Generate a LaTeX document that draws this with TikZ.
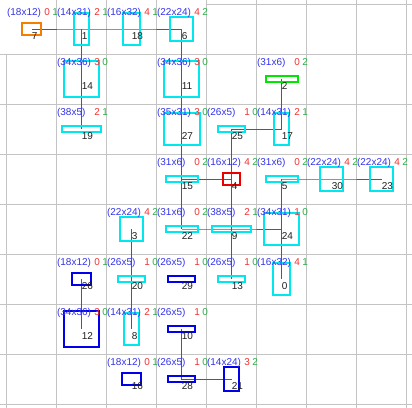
\documentclass[tikz,border=0pt]{standalone}
\usepackage{fontspec}
\setmainfont{Liberation Sans}
\usetikzlibrary{backgrounds}
\definecolor{gridgray}{RGB}{196,196,196}
\definecolor{boxcyan}{RGB}{0,232,238}
\definecolor{boxblue}{RGB}{0,0,235}
\definecolor{boxorange}{RGB}{245,125,0}
\definecolor{boxred}{RGB}{235,0,0}
\definecolor{boxgreen}{RGB}{0,230,0}
\definecolor{linkmag}{RGB}{215,0,215}
\definecolor{sizeblue}{RGB}{50,50,235}
\definecolor{costred}{RGB}{240,50,50}
\definecolor{costgreen}{RGB}{40,175,70}
\tikzset{
  cellbox/.style={draw, line width=2bp, inner sep=0pt, outer sep=0pt},
  numlbl/.style={anchor=base west, inner sep=0pt, text=black!88, yshift=-10bp},
  sizelbl/.style={anchor=base west, inner sep=0pt, text=sizeblue},
  redlbl/.style={anchor=base west, inner sep=0pt, text=costred},
  greenlbl/.style={anchor=base west, inner sep=0pt, text=costgreen},
  link/.style={draw=linkmag, line width=1bp},
  gridline/.style={draw=gridgray, line width=1bp}
}
% #1 column, #2 row, #3 id, #4 width, #5 height, #6 colour, #7 red, #8 green
\newcommand{\gridcell}[8]{%
  \node[cellbox, draw=#6, minimum width=#4bp+1.3bp, minimum height=#5bp+0.5bp] (n#3) at (31.7+50*#1, 29+50*#2) {};
  \node[numlbl] (t#3) at (n#3.center) {#3};
  \node[sizelbl] (s#3) at (6.9+50*#1, 15.5+50*#2) {(#4x#5)};
  \node[redlbl] (r#3) at (44.2+50*#1, 15.5+50*#2) {#7};
  \node[greenlbl] (g#3) at (52.2+50*#1, 15.5+50*#2) {#8};
}

\begin{document}
\begin{tikzpicture}[x=1bp, y=-1bp, font=\fontsize{10bp}{12bp}\selectfont]
  \useasboundingbox (0,0) rectangle (412,408);
  \gridcell{0}{0}{7}{18}{12}{boxorange}{0}{1}
  \gridcell{1}{0}{1}{14}{31}{boxcyan}{2}{1}
  \gridcell{2}{0}{18}{16}{32}{boxcyan}{4}{1}
  \gridcell{3}{0}{6}{22}{24}{boxcyan}{4}{2}
  \gridcell{1}{1}{14}{34}{36}{boxcyan}{3}{0}
  \gridcell{3}{1}{11}{34}{36}{boxcyan}{3}{0}
  \gridcell{5}{1}{2}{31}{6}{boxgreen}{0}{2}
  \gridcell{1}{2}{19}{38}{5}{boxcyan}{2}{1}
  \gridcell{3}{2}{27}{35}{31}{boxcyan}{3}{0}
  \gridcell{4}{2}{25}{26}{5}{boxcyan}{1}{0}
  \gridcell{5}{2}{17}{14}{31}{boxcyan}{2}{1}
  \gridcell{3}{3}{15}{31}{6}{boxcyan}{0}{2}
  \gridcell{4}{3}{4}{16}{12}{boxred}{4}{2}
  \gridcell{5}{3}{5}{31}{6}{boxcyan}{0}{2}
  \gridcell{6}{3}{30}{22}{24}{boxcyan}{4}{2}
  \gridcell{7}{3}{23}{22}{24}{boxcyan}{4}{2}
  \gridcell{2}{4}{3}{22}{24}{boxcyan}{4}{2}
  \gridcell{3}{4}{22}{31}{6}{boxcyan}{0}{2}
  \gridcell{4}{4}{9}{38}{5}{boxcyan}{2}{1}
  \gridcell{5}{4}{24}{34}{31}{boxcyan}{1}{0}
  \gridcell{1}{5}{26}{18}{12}{boxblue}{0}{1}
  \gridcell{2}{5}{20}{26}{5}{boxcyan}{1}{0}
  \gridcell{3}{5}{29}{26}{5}{boxblue}{1}{0}
  \gridcell{4}{5}{13}{26}{5}{boxcyan}{1}{0}
  \gridcell{5}{5}{0}{16}{32}{boxcyan}{4}{1}
  \gridcell{1}{6}{12}{34}{36}{boxblue}{3}{0}
  \gridcell{2}{6}{8}{14}{31}{boxcyan}{2}{1}
  \gridcell{3}{6}{10}{26}{5}{boxblue}{1}{0}
  \gridcell{2}{7}{16}{18}{12}{boxblue}{0}{1}
  \gridcell{3}{7}{28}{26}{5}{boxblue}{1}{0}
  \gridcell{4}{7}{21}{14}{24}{boxblue}{3}{2}
  \begin{pgfonlayer}{background}
    \draw[gridline] (6.7,54) -- (6.7,408);
    \draw[gridline] (206.7,4) -- (412,4);
    \foreach \k in {1,...,8} {
      \draw[gridline] (6.7+50*\k,0) -- (6.7+50*\k,408);
      \draw[gridline] (0,4+50*\k) -- (412,4+50*\k);
    }
    \draw[link] (n7.center) -- (n1.center) -- (n18.center) -- (n6.center);
    \draw[link] (n1.center) -- (n14.center) -- (n19.center);
    \draw[link] (n6.center) -- (n11.center) -- (n27.center) -- (n15.center) -- (n22.center);
    \draw[link] (n2.center) -- (n17.center) -- (n25.center);
    \draw[link] (n25.center) -- (n4.center) -- (n9.center) -- (n13.center);
    \draw[link] (n15.center) -- (n4.center);
    \draw[link] (n5.center) -- (n30.center) -- (n23.center);
    \draw[link] (n5.center) -- (n24.center) -- (n0.center);
    \draw[link] (n22.center) -- (n9.center) -- (n24.center);
    \draw[link] (n3.center) -- (n20.center) -- (n8.center);
    \draw[link] (n26.center) -- (n12.center);
    \draw[link] (n10.center) -- (n28.center) -- (n21.center);
  \end{pgfonlayer}
\end{tikzpicture}
\end{document}
